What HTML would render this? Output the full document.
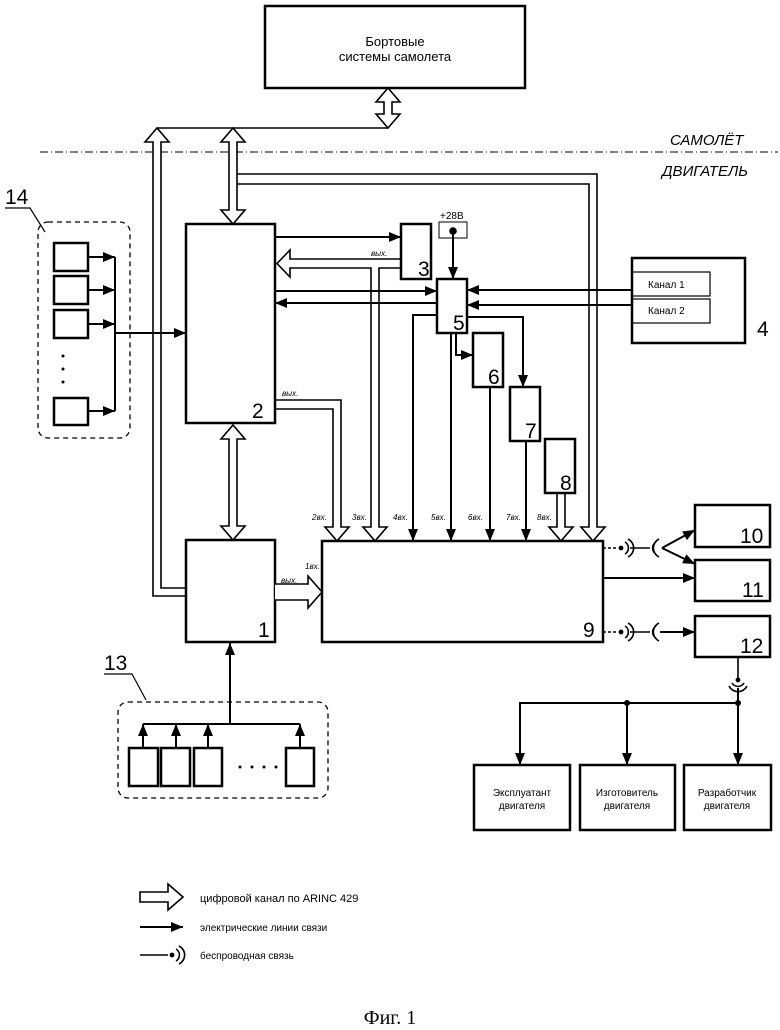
<!DOCTYPE html>
<html><head><meta charset="utf-8"><style>
body{margin:0;background:#fff}
svg{display:block}
text{font-family:"Liberation Sans",sans-serif;fill:#000}
</style></head><body>
<svg width="780" height="1030" viewBox="0 0 780 1030" xmlns="http://www.w3.org/2000/svg">
<defs>
<marker id="a" markerWidth="12" markerHeight="10" refX="12" refY="5" orient="auto" markerUnits="userSpaceOnUse"><path d="M0,0 L12,5 L0,10 z" fill="#000"/></marker>
</defs>
<g fill="none" stroke="#000" stroke-width="1.6">
<!-- top box -->
<rect x="265" y="6" width="260" height="82" stroke-width="2.5"/>
<!-- hollow top double -->
<polygon points="388,88 400,102 392,102 392,114 400,114 388,128 376,114 384,114 384,102 376,102" fill="#fff"/>
<line x1="157" y1="128" x2="388" y2="128"/>
<!-- dash-dot -->
<line x1="40" y1="152" x2="778" y2="152" stroke-width="1" stroke-dasharray="8,3,1,3"/>
<!-- left vertical hollow -->
<polyline points="186,596 153,596 153,142 145,142 157,128 169,142 161,142 161,588 186,588" fill="#fff"/>
<!-- x233 hollow into box2 -->
<polygon points="233,128 245,142 237,142 237,210 245,210 233,224 221,210 229,210 229,142 221,142" fill="#fff"/>
<polyline points="237,174 597,174 597,527 605,527 593,541 581,527 589,527 589,184 237,184" fill="none"/>
<!-- boxes -->
<g stroke-width="2.5">
<rect x="186" y="224" width="89" height="199"/>
<rect x="186" y="540" width="89" height="102"/>
<rect x="322" y="541" width="281" height="101"/>
<rect x="401" y="224" width="30" height="55"/>
<rect x="437" y="279" width="30" height="54"/>
<rect x="473" y="333" width="30" height="54"/>
<rect x="510" y="387" width="30" height="54"/>
<rect x="545" y="439" width="30" height="54"/>
<rect x="632" y="258" width="113" height="85"/>
<rect x="695" y="505" width="75" height="42"/>
<rect x="695" y="560" width="75" height="41"/>
<rect x="695" y="616" width="75" height="41"/>
<rect x="474" y="765" width="96" height="65"/>
<rect x="580" y="765" width="95" height="65"/>
<rect x="684" y="765" width="87" height="65"/>
</g>
<rect x="632" y="272" width="78" height="24" stroke-width="1.2"/>
<rect x="632" y="299" width="78" height="24" stroke-width="1.2"/>
<rect x="439" y="222" width="28" height="16" stroke-width="1"/>
<!-- box2 <-> box1 -->
<polygon points="233,425 245,439 237,439 237,526 245,526 233,540 221,526 229,526 229,439 221,439" fill="#fff"/>
<!-- 1 -> 9 -->
<polyline points="275,584 308,584 308,576 322,592 308,608 308,600 275,600" fill="#fff"/>
<!-- 3 output -->
<polyline points="401,259 290,259 290,250 277,263.5 290,277 290,268 371,268 371,527 363,527 375,541 387,527 379,527 379,268 401,268"/>
<!-- 2 out -->
<polyline points="275,400 341,400 341,527 349,527 337,541 325,527 333,527 333,409 275,409"/>
<!-- 8 -->
<polyline points="557,493 557,527 549,527 561,541 573,527 565,527 565,493"/>
<!-- electric lines -->
<g stroke-width="2">
<line x1="275" y1="237" x2="401" y2="237" marker-end="url(#a)"/>
<line x1="275" y1="291" x2="437" y2="291" marker-end="url(#a)"/>
<line x1="437" y1="303" x2="275" y2="303" marker-end="url(#a)"/>
<line x1="632" y1="290" x2="467" y2="290" marker-end="url(#a)"/>
<line x1="632" y1="305" x2="467" y2="305" marker-end="url(#a)"/>
<line x1="453" y1="231" x2="453" y2="279" marker-end="url(#a)"/>
<polyline points="437,315 413,315 413,541" marker-end="url(#a)"/>
<line x1="451" y1="333" x2="451" y2="541" marker-end="url(#a)"/>
<polyline points="456,333 456,355 473,355" marker-end="url(#a)"/>
<polyline points="467,317 523,317 523,387" marker-end="url(#a)"/>
<line x1="490" y1="387" x2="490" y2="541" marker-end="url(#a)"/>
<line x1="526" y1="441" x2="526" y2="541" marker-end="url(#a)"/>
<line x1="115" y1="333" x2="186" y2="333" marker-end="url(#a)"/>
<line x1="230" y1="724" x2="230" y2="643" marker-end="url(#a)"/>
<line x1="603" y1="578" x2="695" y2="578" marker-end="url(#a)"/>
<line x1="662" y1="548" x2="695" y2="530" marker-end="url(#a)"/>
<line x1="662" y1="548" x2="695" y2="564" marker-end="url(#a)"/>
<line x1="660" y1="632" x2="695" y2="632" marker-end="url(#a)"/>
</g>
<circle cx="453" cy="231" r="3" fill="#000"/>
<!-- group 14 -->
<rect x="38" y="222" width="92" height="216" rx="10" stroke-dasharray="5,4" stroke-width="1.3"/>
<g stroke-width="2.5">
<rect x="54" y="243" width="34" height="28"/><rect x="54" y="276" width="34" height="28"/><rect x="54" y="310" width="34" height="28"/><rect x="54" y="398" width="34" height="27"/>
</g>
<g stroke-width="2">
<line x1="88" y1="257" x2="115" y2="257" marker-end="url(#a)"/>
<line x1="88" y1="290" x2="115" y2="290" marker-end="url(#a)"/>
<line x1="88" y1="324" x2="115" y2="324" marker-end="url(#a)"/>
<line x1="88" y1="411" x2="115" y2="411" marker-end="url(#a)"/>
<line x1="115" y1="257" x2="115" y2="411"/>
</g>
<polyline points="5,208 30,208 45,232" stroke-width="1.2"/>
<!-- group 13 -->
<rect x="118" y="702" width="210" height="96" rx="10" stroke-dasharray="5,4" stroke-width="1.3"/>
<g stroke-width="2.5">
<rect x="129" y="748" width="29" height="38"/><rect x="161" y="748" width="29" height="38"/><rect x="194" y="748" width="28" height="38"/><rect x="286" y="748" width="28" height="38"/>
</g>
<g stroke-width="2">
<line x1="143" y1="724" x2="300" y2="724"/>
<line x1="143" y1="748" x2="143" y2="724" marker-end="url(#a)"/>
<line x1="176" y1="748" x2="176" y2="724" marker-end="url(#a)"/>
<line x1="208" y1="748" x2="208" y2="724" marker-end="url(#a)"/>
<line x1="300" y1="748" x2="300" y2="724" marker-end="url(#a)"/>
</g>
<polyline points="104,674 132,674 146,700" stroke-width="1.2"/>
<!-- wireless -->
<line x1="603" y1="548" x2="618" y2="548" stroke-dasharray="3,2"/>
<circle cx="621" cy="548" r="1.6" fill="#000"/>
<path d="M625,542 A7,7 0 0 1 625,554 M628,539 A10,10 0 0 1 628,557"/>
<line x1="630" y1="548" x2="650" y2="548"/>
<path d="M656,542 A7,7 0 0 0 656,554 M659,539 A10,10 0 0 0 659,557"/>
<line x1="603" y1="632" x2="618" y2="632" stroke-dasharray="3,2"/>
<circle cx="621" cy="632" r="1.6" fill="#000"/>
<path d="M625,626 A7,7 0 0 1 625,638 M628,623 A10,10 0 0 1 628,641"/>
<line x1="630" y1="632" x2="650" y2="632"/>
<path d="M656,626 A7,7 0 0 0 656,638 M659,623 A10,10 0 0 0 659,641"/>
<line x1="738" y1="657" x2="738" y2="678"/>
<circle cx="738" cy="680" r="1.6" fill="#000"/>
<path d="M732,683 A7,7 0 0 0 744,683 M729,686 A10,10 0 0 0 747,686"/>
<g stroke-width="2">
<line x1="738" y1="688" x2="738" y2="765" marker-end="url(#a)"/>
<polyline points="738,703 520,703 520,765" marker-end="url(#a)"/>
<line x1="627" y1="703" x2="627" y2="765" marker-end="url(#a)"/>
</g>
<circle cx="627" cy="703" r="2.2" fill="#000"/><circle cx="738" cy="703" r="2.2" fill="#000"/>
<!-- legend -->
<polygon points="140,892 168,892 168,884 183,897 168,910 168,902 140,902"/>
<line x1="140" y1="927" x2="183" y2="927" stroke-width="2" marker-end="url(#a)"/>
<line x1="140" y1="955" x2="168" y2="955"/>
<circle cx="172" cy="955" r="1.6" fill="#000"/>
<path d="M176,949 A7,7 0 0 1 176,961 M179,946 A10,10 0 0 1 179,964"/>
</g>
<g fill="#000">
<circle cx="63" cy="356" r="1.5"/><circle cx="63" cy="369" r="1.5"/><circle cx="63" cy="382" r="1.5"/>
<circle cx="240" cy="767" r="1.5"/><circle cx="252" cy="767" r="1.5"/><circle cx="264" cy="767" r="1.5"/><circle cx="276" cy="767" r="1.5"/>
</g>
<text x="395" y="46" font-size="13" text-anchor="middle">Бортовые</text>
<text x="395" y="61" font-size="13" text-anchor="middle">системы самолета</text>
<text x="670" y="145" font-size="15" font-style="italic">САМОЛЁТ</text>
<text x="662" y="176" font-size="15" font-style="italic">ДВИГАТЕЛЬ</text>
<text x="440" y="219" font-size="10">+28В</text>
<g font-size="21">
<text x="252" y="418">2</text><text x="258" y="637">1</text><text x="583" y="637">9</text>
<text x="418" y="276">3</text><text x="453" y="330">5</text><text x="488" y="384">6</text><text x="525" y="438">7</text><text x="560" y="490">8</text>
<text x="757" y="336">4</text>
<text x="740" y="543">10</text><text x="742" y="597">11</text><text x="740" y="653">12</text>
<text x="5" y="204">14</text><text x="104" y="670">13</text>
</g>
<text x="648" y="288" font-size="10">Канал 1</text>
<text x="648" y="314" font-size="10">Канал 2</text>
<g font-size="8" font-style="italic">
<text x="371" y="256">вых.</text><text x="282" y="396">вых.</text><text x="281" y="583">вых.</text><text x="305" y="569">1вх.</text>
<text x="312" y="520">2вх.</text><text x="352" y="520">3вх.</text><text x="393" y="520">4вх.</text><text x="431" y="520">5вх.</text><text x="468" y="520">6вх.</text><text x="506" y="520">7вх.</text><text x="537" y="520">8вх.</text>
</g>
<g font-size="10" text-anchor="middle">
<text x="522" y="796">Эксплуатант</text><text x="522" y="809">двигателя</text>
<text x="627" y="796">Изготовитель</text><text x="627" y="809">двигателя</text>
<text x="727" y="796">Разработчик</text><text x="727" y="809">двигателя</text>
</g>
<text x="200" y="902" font-size="11">цифровой канал по ARINC 429</text>
<text x="200" y="931" font-size="10">электрические линии связи</text>
<text x="200" y="959" font-size="10">беспроводная связь</text>
<text x="390" y="1024" font-size="20" text-anchor="middle" style="font-family:'Liberation Serif',serif">Фиг. 1</text>
</svg>
</body></html>
